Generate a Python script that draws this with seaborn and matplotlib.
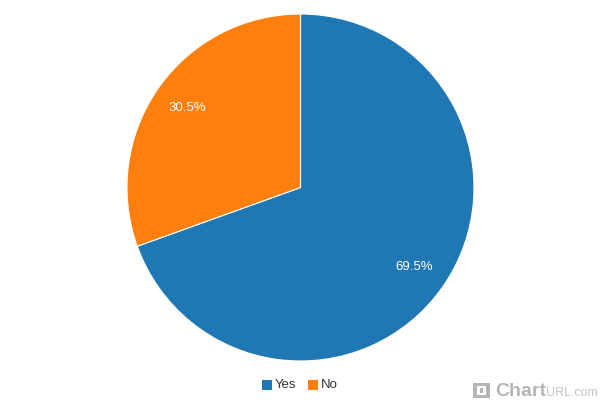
import matplotlib
matplotlib.use('Agg')
import matplotlib.pyplot as plt
from matplotlib.patches import Rectangle
import seaborn as sns

labels = ['Yes', 'No']
values = [69.5, 30.5]

sns.set_theme(style="white")
plt.rcParams['font.family'] = ['Liberation Sans', 'DejaVu Sans']
palette = sns.color_palette("tab10", 2)

fig = plt.figure(figsize=(6, 4), dpi=100)
# pie spans x 127-474, y 14-361 in pixels
ax = fig.add_axes([127 / 600, 1 - 361 / 400, 347 / 600, 347 / 400])
wedges, texts, autotexts = ax.pie(values, colors=palette, startangle=90, counterclock=False,
                                  radius=1, autopct='%.1f%%', pctdistance=0.8,
                                  wedgeprops=dict(edgecolor='white', linewidth=0.8),
                                  textprops=dict(color='white', fontsize=9.5))
ax.set_xlim(-1, 1)
ax.set_ylim(-1, 1)

# legend
for x, lab, col in zip([262, 308], labels, palette):
    fig.add_artist(Rectangle((x / 600, 1 - 389.5 / 400), 10 / 600, 10 / 400,
                             transform=fig.transFigure, color=col, lw=0))
    fig.text((x + 13) / 600, 1 - 384.5 / 400, lab, fontsize=9.5, color='#333333', va='center')

# watermark
fig.text(495 / 600, 1 - 392 / 400, 'Chart', fontsize=14, fontweight='bold', color='#b5b5b5', va='center')
fig.text(546 / 600, 1 - 393 / 400, 'URL.com', fontsize=9, color='#c4c4c4', va='center')
fig.add_artist(Rectangle((473 / 600, 1 - 398 / 400), 17 / 600, 15 / 400, transform=fig.transFigure,
                         facecolor='#b5b5b5', edgecolor='none'))
fig.add_artist(Rectangle((477 / 600, 1 - 395 / 400), 9 / 600, 9 / 400, transform=fig.transFigure,
                         facecolor='white', edgecolor='none'))
fig.add_artist(Rectangle((480 / 600, 1 - 393 / 400), 3 / 600, 5 / 400, transform=fig.transFigure,
                         facecolor='#b5b5b5', edgecolor='none'))

fig.savefig('out.png', dpi=100)
